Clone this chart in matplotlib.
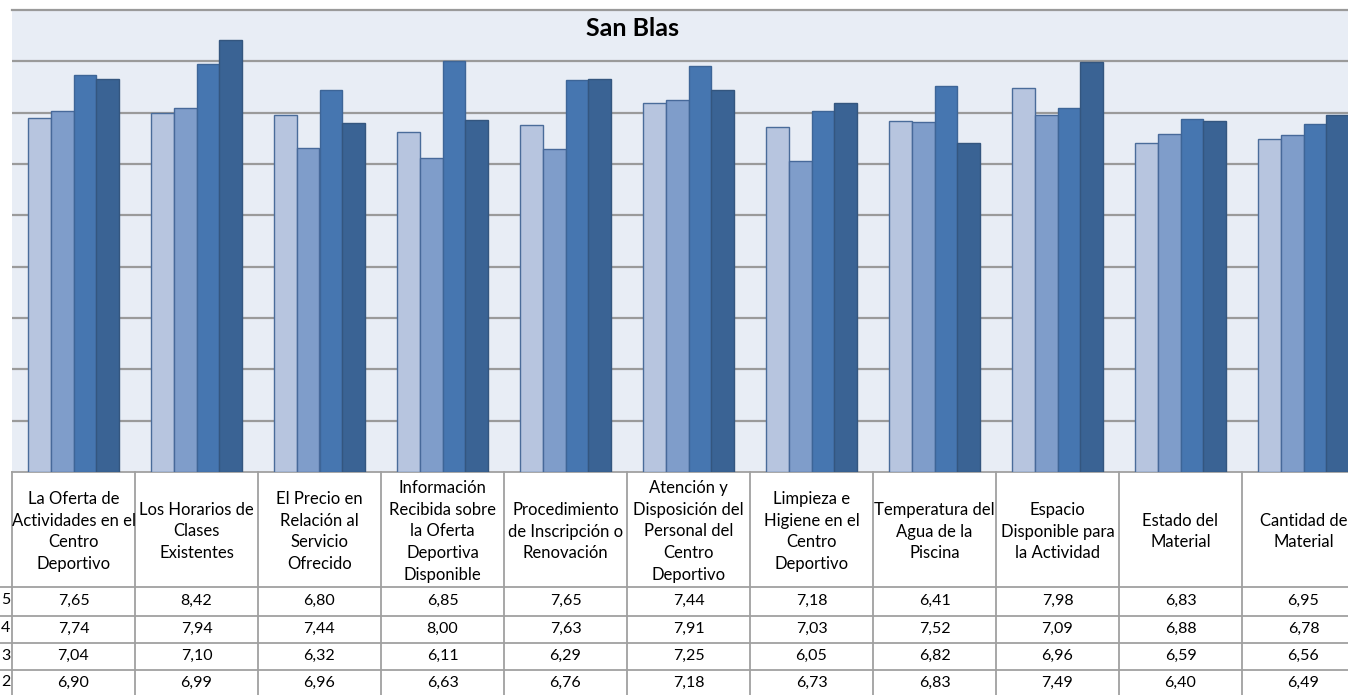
import matplotlib
matplotlib.use("Agg")
import matplotlib.pyplot as plt
import matplotlib.transforms as mtransforms
import numpy as np

plt.rcParams["font.family"] = ["Lato", "DejaVu Sans"]

categories = [
    "La Oferta de\nActividades en el\nCentro\nDeportivo",
    "Los Horarios de\nClases\nExistentes",
    "El Precio en\nRelación al\nServicio\nOfrecido",
    "Información\nRecibida sobre\nla Oferta\nDeportiva\nDisponible",
    "Procedimiento\nde Inscripción o\nRenovación",
    "Atención y\nDisposición del\nPersonal del\nCentro\nDeportivo",
    "Limpieza e\nHigiene en el\nCentro\nDeportivo",
    "Temperatura del\nAgua de la\nPiscina",
    "Espacio\nDisponible para\nla Actividad",
    "Estado del\nMaterial",
    "Cantidad de\nMaterial",
]
# row labels of the table are cut at the left edge: only the last digit shows
row_names = ["5", "4", "3", "2"]
v2012 = [6.90, 6.99, 6.96, 6.63, 6.76, 7.18, 6.73, 6.83, 7.49, 6.40, 6.49]
v2013 = [7.04, 7.10, 6.32, 6.11, 6.29, 7.25, 6.05, 6.82, 6.96, 6.59, 6.56]
v2014 = [7.74, 7.94, 7.44, 8.00, 7.63, 7.91, 7.03, 7.52, 7.09, 6.88, 6.78]
v2015 = [7.65, 8.42, 6.80, 6.85, 7.65, 7.44, 7.18, 6.41, 7.98, 6.83, 6.95]
series = [v2012, v2013, v2014, v2015]

colors = ["#b7c5df", "#7f9dca", "#4676b0", "#3a6394"]
edges = ["#4a6c9a", "#47699a", "#3d6597", "#34567f"]

W, H = 1348, 695
fig = plt.figure(figsize=(W / 100, H / 100), dpi=100)
ax_left, ax_right, ax_top, ax_bot = 12, 1365, 10, 472
ax = fig.add_axes([ax_left / W, 1 - ax_bot / H, (ax_right - ax_left) / W, (ax_bot - ax_top) / H])
ax.set_facecolor("#e8edf5")

n = len(categories)
x = np.arange(n)
bw = 0.183
for i, vals in enumerate(series):
    ax.bar(x + (i - 1.5) * bw, vals, width=bw, color=colors[i],
           edgecolor=edges[i], linewidth=1.0, zorder=3)

ax.set_xlim(-0.5, n - 0.5)
ax.set_ylim(0, 9)
ax.set_yticks(range(1, 9))
ax.yaxis.grid(True, color="#9a9a9a", linewidth=1.6, zorder=0)
ax.tick_params(left=False, bottom=False, labelleft=False, labelbottom=False)
for s in ["left", "right", "bottom"]:
    ax.spines[s].set_visible(False)
ax.spines["top"].set_color("#9a9a9a")
ax.spines["top"].set_linewidth(1.6)

fig.text(633 / W, 1 - 28 / H, "San Blas", ha="center", va="center",
         fontsize=18, fontweight="bold")

# data table under the chart
tr = mtransforms.blended_transform_factory(ax.transData, fig.transFigure)
line_c = "#a0a0a0"
header_bot = 587
row_lines = [587, 616, 643, 670, 697]
rows = [v2015, v2014, v2013, v2012]

for k in range(n + 1):
    ax.plot([k - 0.5, k - 0.5], [1 - ax_bot / H, 0], transform=tr,
            color=line_c, linewidth=1.3, clip_on=False)
ax.plot([-0.5, n - 0.5], [1 - ax_bot / H, 1 - ax_bot / H], transform=tr,
        color=line_c, linewidth=1.3, clip_on=False)
for py in row_lines:
    fig.add_artist(plt.Line2D([0, 1], [1 - py / H, 1 - py / H],
                              transform=fig.transFigure, color=line_c, linewidth=1.3))

for j, lab in enumerate(categories):
    ax.text(j, 1 - (ax_bot + header_bot) / 2 / H - 2 / H, lab, transform=tr,
            ha="center", va="center", fontsize=12, linespacing=1.43,
            clip_on=False)

for r, vals in enumerate(rows):
    yc = 1 - (row_lines[r] + row_lines[r + 1]) / 2 / H + 1 / H
    fig.text(1 / W, yc, row_names[r], ha="left", va="center", fontsize=11.5)
    for j, v in enumerate(vals):
        ax.text(j, yc, f"{v:.2f}".replace(".", ","), transform=tr,
                ha="center", va="center", fontsize=11.5, clip_on=False)

fig.savefig("out.png", dpi=100)
